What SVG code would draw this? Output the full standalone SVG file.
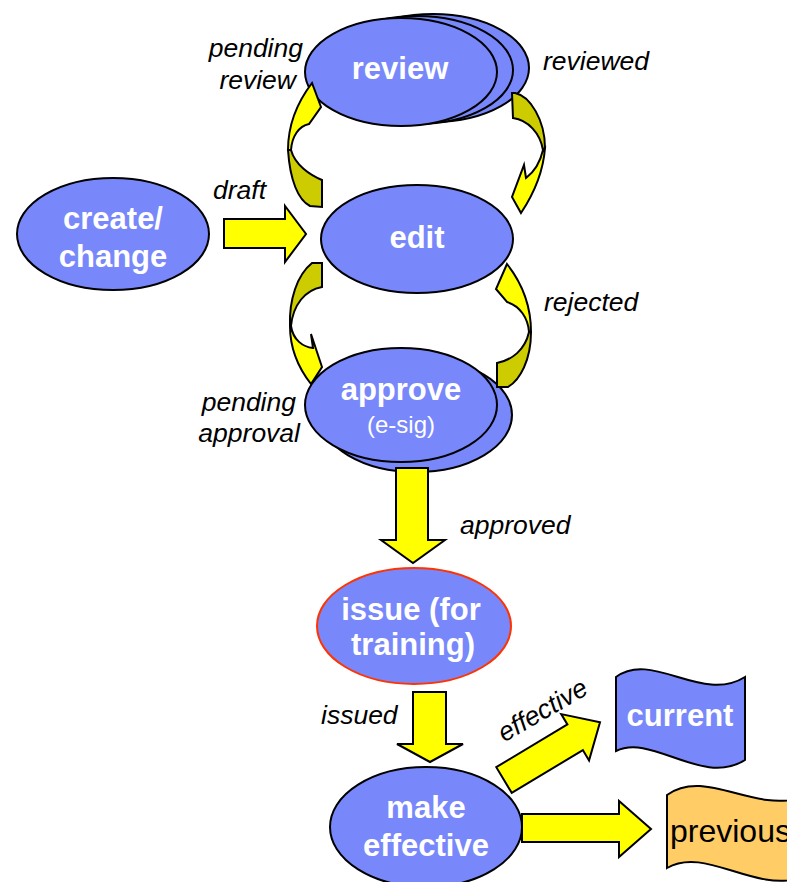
<svg xmlns="http://www.w3.org/2000/svg" width="787" height="882" viewBox="0 0 787 882">
<style>
.n{fill:#7887FA;stroke:#000;stroke-width:2}
.t{font-family:"Liberation Sans",Arial,sans-serif;font-weight:bold;font-size:31px;fill:#fff;text-anchor:middle}
.s{font-family:"Liberation Sans",Arial,sans-serif;font-size:24px;fill:#fff;text-anchor:middle}
.l{font-family:"Liberation Sans",Arial,sans-serif;font-style:italic;font-size:26.5px;fill:#000}
.y{fill:#FFFF00;stroke:#000;stroke-width:2;stroke-linejoin:miter}
.d{fill:#CCCC00;stroke:#000;stroke-width:2}
</style>
<rect width="787" height="882" fill="#fff"/>
<g id="create">
<ellipse class="n" cx="113" cy="234" rx="96" ry="56"/>
<text class="t" x="113" y="229">create/</text>
<text class="t" x="113" y="267">change</text>
</g>
<g id="review">
<ellipse class="n" cx="433" cy="68" rx="96" ry="54"/>
<ellipse class="n" cx="417" cy="70" rx="96" ry="54"/>
<ellipse class="n" cx="401" cy="72" rx="96" ry="54"/>
<text class="t" x="400" y="79">review</text>
</g>
<g id="edit">
<ellipse class="n" cx="417" cy="239" rx="96" ry="54"/>
<text class="t" x="417" y="248">edit</text>
</g>
<g id="approve">
<ellipse class="n" cx="416" cy="415" rx="96" ry="57"/>
<ellipse class="n" cx="401" cy="405" rx="96" ry="57"/>
<text class="t" x="401" y="400">approve</text>
<text class="s" x="401" y="433">(e-sig)</text>
</g>
<g id="issue">
<ellipse cx="414" cy="626" rx="97" ry="58" fill="#7887FA" stroke="#FF3300" stroke-width="2"/>
<text class="t" x="411" y="620">issue (for</text>
<text class="t" x="413" y="655">training)</text>
</g>
<g id="make-effective">
<ellipse class="n" cx="426" cy="827" rx="96" ry="60"/>
<text class="t" x="426" y="818">make</text>
<text class="t" x="426" y="856">effective</text>
</g>
<g id="current">
<path class="n" d="M616,677 C652,650 702,704 745,677 L745,760 C702,787 652,733 616,751 Z"/>
<text class="t" x="680" y="726">current</text>
</g>
<g id="previous">
<path d="M667,795 C705,768 752,812 800,798 L800,878 C752,892 705,846 667,868 Z" fill="#FFCC66" stroke="#000" stroke-width="2"/>
<text x="670" y="842" font-family="Liberation Sans,Arial,sans-serif" font-size="32" fill="#000">previous</text>
</g>
<g id="connectors">
<path class="y" d="M224,219 L285,219 L285,206 L306,234 L285,262 L285,248 L224,248 Z"/>
<path class="y" d="M288,150 C288,125 296,104 312,83 L321,107 L309,124 C299,126 292,136 291,150 Z"/>
<path class="d" d="M288,150 C290,180 298,200 310,206 L322,207 L322,180 C310,175 295,165 291,150 Z"/>
<path class="d" d="M512,93 L513,118 C528,120 540,133 543,150 L545,148 C545,120 530,96 515,93 Z"/>
<path class="y" d="M543,150 C540,163 534,172 526,178 L524,165 L512,197 L521,213 C533,195 543,175 545,148 Z"/>
<path class="d" d="M312,263 L322,263 L322,287 C305,290 293,305 291,326 L290,326 C289,300 297,275 312,263 Z"/>
<path class="y" d="M291,326 C293,340 303,347 313,348 L311,334 L322,367 L311,384 C300,370 290,350 290,326 Z"/>
<path class="y" d="M507,264 L496,289 L507,302 C520,306 528,318 529,332 L531,332 C531,305 522,283 507,264 Z"/>
<path class="d" d="M531,332 C531,360 520,380 508,387 L497,387 L497,363 C512,360 525,350 529,332 Z"/>
<path class="y" d="M396,468 L428,468 L428,540 L445,540 L413,563 L381,540 L396,540 Z"/>
<path class="y" d="M413,692 L446,692 L446,744 L463,744 L430,762 L397,744 L413,744 Z"/>
<path class="y" transform="translate(504,780) rotate(-31)" d="M0,-15 L83,-15 L83,-27 L112,0 L83,27 L83,15 L0,15 Z"/>
<path class="y" d="M522,814 L619,814 L619,801 L651,829 L619,857 L619,842 L522,842 Z"/>
</g>
<g id="labels">
<text class="l" x="303" y="57" text-anchor="end">pending</text>
<text class="l" x="296" y="89" text-anchor="end">review</text>
<text class="l" x="543" y="70">reviewed</text>
<text class="l" x="213" y="199">draft</text>
<text class="l" x="544" y="311">rejected</text>
<text class="l" x="296" y="411" text-anchor="end">pending</text>
<text class="l" x="300" y="442" text-anchor="end">approval</text>
<text class="l" x="460" y="534">approved</text>
<text class="l" x="321" y="724">issued</text>
<text class="l" transform="translate(543,711) rotate(-30)" x="0" y="8" text-anchor="middle">effective</text>
</g>
</svg>
